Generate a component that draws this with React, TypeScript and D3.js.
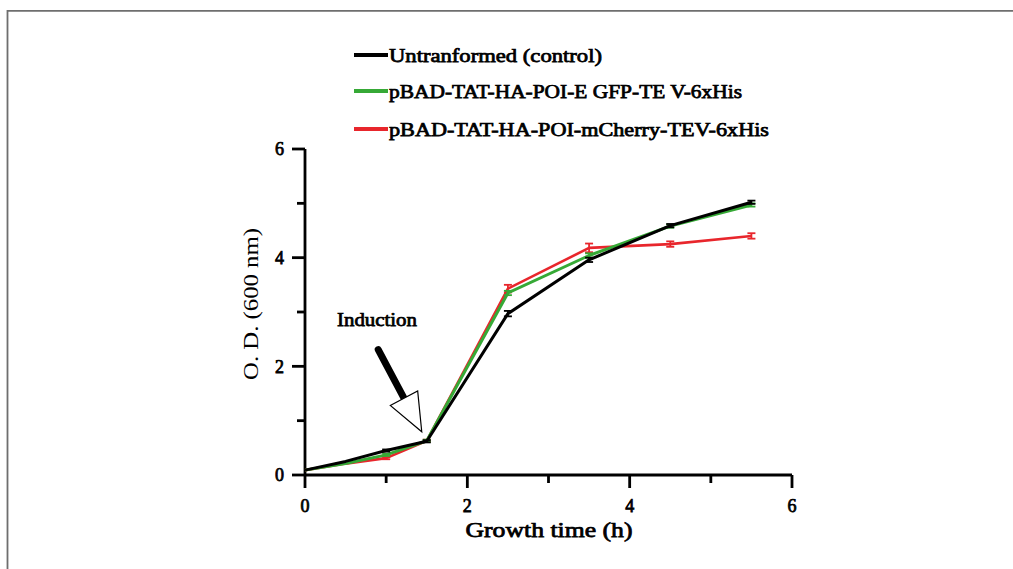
import React from "react";
import * as d3 from "d3";

const timeH = [0, 0.5, 1, 1.5, 2.5, 3.5, 4.5, 5.5];
const controlOD = [0.09, 0.25, 0.45, 0.62, 2.97, 3.96, 4.59, 5.02];
const egfpOD = [0.09, 0.21, 0.37, 0.63, 3.35, 4.04, 4.58, 4.97];
const mcherryOD = [0.09, 0.21, 0.31, 0.63, 3.43, 4.18, 4.25, 4.4];
const controlErr = [0, 0, 0.02, 0.02, 0.05, 0.04, 0.03, 0.03];
const egfpErr = [0, 0, 0.02, 0.02, 0.04, 0.04, 0.03, 0.03];
const mcherryErr = [0, 0, 0.02, 0.02, 0.07, 0.08, 0.05, 0.05];

const seriesNames = [
  "Untranformed (control)",
  "pBAD-TAT-HA-POI-E GFP-TE V-6xHis",
  "pBAD-TAT-HA-POI-mCherry-TEV-6xHis",
];
const seriesColors = ["#000000", "#36a936", "#e8262c"];
const xTicks = [0, 1, 2, 3, 4, 5, 6];
const yTicks = [0, 1, 2, 3, 4, 5, 6];
const xTitle = "Growth time (h)";
const yTitle = "O. D. (600 nm)";
const annotationText = "Induction";
const inductionTime = 1.5;
const inductionOD = 0.63;

export default function App() {
  const W = 1013;
  const H = 569;
  const x = d3.scaleLinear().domain([0, 6]).range([305, 792]);
  const y = d3.scaleLinear().domain([0, 6]).range([475, 149]);
  const serif = "'Liberation Serif', 'Times New Roman', Times, serif";
  // heavy serif look: regular serif face with a thin outline
  const boldProps = {
    fontFamily: serif,
    fontWeight: "normal" as const,
    stroke: "#000",
    strokeWidth: 0.75,
    fill: "#000",
  };

  const series = [
    { name: seriesNames[2], color: seriesColors[2], vals: mcherryOD, err: mcherryErr, w: 2.6 },
    { name: seriesNames[1], color: seriesColors[1], vals: egfpOD, err: egfpErr, w: 3 },
    { name: seriesNames[0], color: seriesColors[0], vals: controlOD, err: controlErr, w: 3 },
  ];

  const line = d3
    .line<[number, number]>()
    .x((d) => x(d[0]))
    .y((d) => y(d[1]));

  // arrow geometry relative to the induction point
  const px = x(inductionTime);
  const py = y(inductionOD);
  const tip: [number, number] = [px - 5, py - 9];
  const dir = [0.468, 0.884];
  const perp = [-dir[1], dir[0]];
  const headLen = 38;
  const halfBase = 15.5;
  const base: [number, number] = [tip[0] - dir[0] * headLen, tip[1] - dir[1] * headLen];
  const shaftStart: [number, number] = [base[0] - dir[0] * 55, base[1] - dir[1] * 55];
  const headPts = [
    [base[0] + perp[0] * halfBase, base[1] + perp[1] * halfBase],
    [base[0] - perp[0] * halfBase, base[1] - perp[1] * halfBase],
    tip,
  ];

  const legendY = [55, 91, 129];
  const legendLens = [213, 353, 380];

  return (
    <svg
      width={W}
      height={H}
      style={{ position: "absolute", left: 0, top: 0, background: "#fff" }}
    >
      <rect x={0} y={0} width={W} height={H} fill="#fff" />
      {/* frame */}
      <line x1={7.5} y1={10.8} x2={W} y2={10.8} stroke="#6e6e6e" strokeWidth={1.8} />
      <line x1={7.5} y1={10} x2={7.5} y2={H} stroke="#6e6e6e" strokeWidth={1.8} />

      {/* legend */}
      {seriesNames.map((n, i) => (
        <g key={n}>
          <line x1={354} x2={388} y1={legendY[i]} y2={legendY[i]} stroke={seriesColors[i]} strokeWidth={4} />
          <text
            x={389}
            y={legendY[i] + 6.5}
            {...boldProps}
            fontSize={19}
            textLength={legendLens[i]}
            lengthAdjust="spacingAndGlyphs"
          >
            {n}
          </text>
        </g>
      ))}

      {/* axes */}
      <line x1={x(0)} x2={x(6)} y1={y(0)} y2={y(0)} stroke="#000" strokeWidth={2.8} />
      <line x1={x(0)} x2={x(0)} y1={y(0)} y2={y(6)} stroke="#000" strokeWidth={2.8} />
      {xTicks.map((t) => (
        <g key={"xt" + t}>
          <line
            x1={x(t)}
            x2={x(t)}
            y1={y(0)}
            y2={y(0) + (t % 2 === 0 ? 13 : 8)}
            stroke="#000"
            strokeWidth={2.8}
          />
          {t % 2 === 0 && (
            <text x={x(t)} y={506} dy="0.35em" textAnchor="middle" {...boldProps} fontSize={18}>
              {t}
            </text>
          )}
        </g>
      ))}
      {yTicks.map((t) => (
        <g key={"yt" + t}>
          <line
            x1={x(0) - (t % 2 === 0 ? 13 : 8)}
            x2={x(0)}
            y1={y(t)}
            y2={y(t)}
            stroke="#000"
            strokeWidth={2.8}
          />
          {t % 2 === 0 && (
            <text x={284} y={y(t)} dy="0.35em" textAnchor="end" {...boldProps} fontSize={18}>
              {t}
            </text>
          )}
        </g>
      ))}
      <text
        x={549}
        y={530}
        dy="0.35em"
        textAnchor="middle"
        {...boldProps}
        fontSize={21}
        textLength={167}
        lengthAdjust="spacingAndGlyphs"
      >
        {xTitle}
      </text>
      <text
        transform={`translate(251,${304}) rotate(-90)`}
        textAnchor="middle"
        dy="0.35em"
        fontFamily={serif}
        fontSize={21}
        textLength={152}
        lengthAdjust="spacingAndGlyphs"
      >
        {yTitle}
      </text>

      {/* series */}
      {series.map((s) => {
        const pts = timeH.map((t, i) => [t, s.vals[i]] as [number, number]);
        return (
          <g key={s.name}>
            <path d={line(pts) || ""} fill="none" stroke={s.color} strokeWidth={s.w} strokeLinejoin="round" />
            {timeH.map((t, i) =>
              s.err[i] > 0 ? (
                <g key={i} stroke={s.color} strokeWidth={1.8}>
                  <line x1={x(t)} x2={x(t)} y1={y(s.vals[i] - s.err[i])} y2={y(s.vals[i] + s.err[i])} />
                  <line x1={x(t) - 4} x2={x(t) + 4} y1={y(s.vals[i] + s.err[i])} y2={y(s.vals[i] + s.err[i])} />
                  <line x1={x(t) - 4} x2={x(t) + 4} y1={y(s.vals[i] - s.err[i])} y2={y(s.vals[i] - s.err[i])} />
                </g>
              ) : null
            )}
          </g>
        );
      })}

      {/* induction annotation */}
      <text x={337} y={326} {...boldProps} fontSize={19} textLength={80} lengthAdjust="spacingAndGlyphs">
        {annotationText}
      </text>
      <line
        x1={shaftStart[0]}
        y1={shaftStart[1]}
        x2={base[0] + dir[0] * 2}
        y2={base[1] + dir[1] * 2}
        stroke="#000"
        strokeWidth={7}
        strokeLinecap="round"
      />
      <polygon
        points={headPts.map((p) => p.join(",")).join(" ")}
        fill="#fff"
        stroke="#000"
        strokeWidth={1.2}
      />
    </svg>
  );
}
